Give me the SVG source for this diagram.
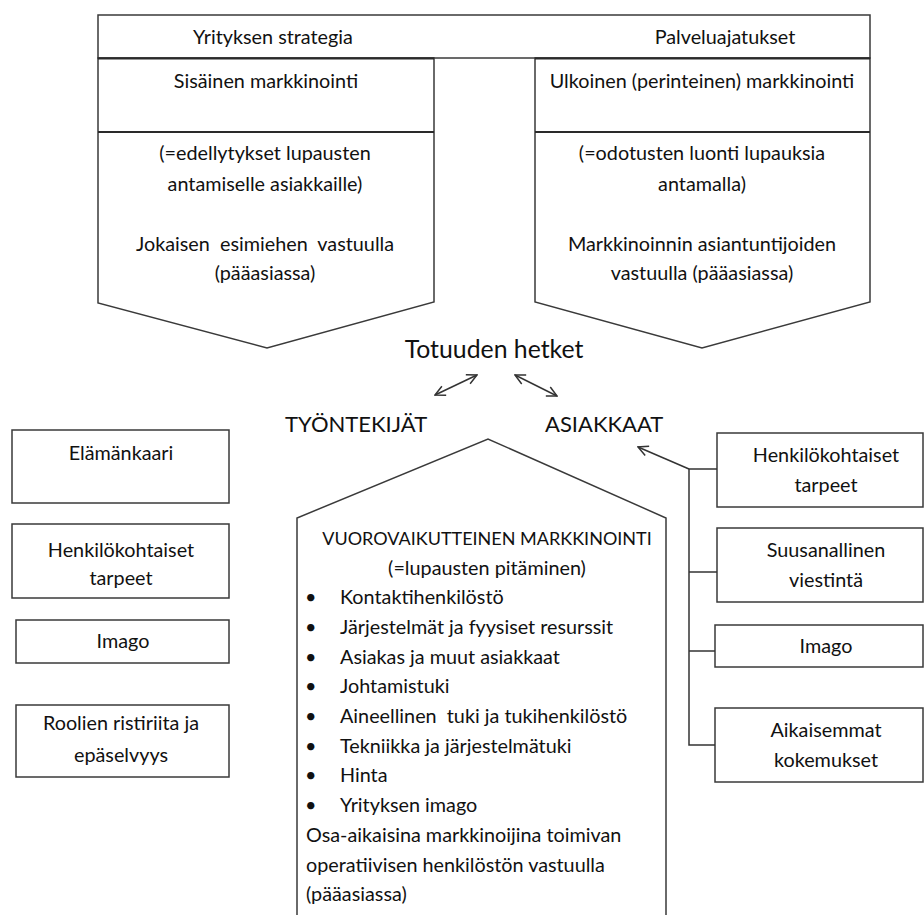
<svg xmlns="http://www.w3.org/2000/svg" width="924" height="915" viewBox="0 0 924 915">
  <style>
    .shape { fill: #ffffff; stroke: #3a3a3a; stroke-width: 1.5; }
    .rule { stroke: #2a2a2a; stroke-width: 2.2; }
    .link { fill: none; stroke: #333333; stroke-width: 1.5; }
    text { font-family: Lato, "Liberation Sans", sans-serif; fill: #111111; font-size: 19.8px; }
    .c { text-anchor: middle; }
    .title { font-size: 24.8px; }
    .big { font-size: 22px; }
    .caps { font-size: 18px; }
  </style>
  <defs>
    <marker id="open" viewBox="0 0 12 12" refX="11" refY="6" markerWidth="12" markerHeight="12" markerUnits="userSpaceOnUse" orient="auto-start-reverse">
      <path d="M1,1 L11,6 L1,11" fill="none" stroke="#333333" stroke-width="1.5"/>
    </marker>
  </defs>

  <rect width="924" height="915" fill="#ffffff"/>

  <!-- top strategy bar -->
  <g id="strategy-bar">
    <rect class="shape" x="98" y="15" width="772" height="43"/>
    <text class="c" x="273" y="44">Yrityksen strategia</text>
    <text class="c" x="725" y="44">Palveluajatukset</text>
  </g>

  <!-- internal marketing -->
  <g id="internal-marketing">
    <polygon class="shape" points="98,58 434,58 434,302 267,348 98,303"/>
    <line class="rule" x1="98" y1="58.5" x2="434" y2="58.5"/>
    <line class="rule" x1="98" y1="132" x2="434" y2="132"/>
    <text class="c" x="266" y="88">Sisäinen markkinointi</text>
    <text class="c" x="265" y="160">(=edellytykset lupausten</text>
    <text class="c" x="265" y="191">antamiselle asiakkaille)</text>
    <text class="c" x="265" y="251" xml:space="preserve">Jokaisen  esimiehen  vastuulla</text>
    <text class="c" x="265" y="280">(pääasiassa)</text>
  </g>

  <!-- external marketing -->
  <g id="external-marketing">
    <polygon class="shape" points="535,58 870,58 870,302 702,348 535,302"/>
    <line class="rule" x1="535" y1="58.5" x2="870" y2="58.5"/>
    <line class="rule" x1="535" y1="132" x2="870" y2="132"/>
    <text class="c" x="702" y="88">Ulkoinen (perinteinen) markkinointi</text>
    <text class="c" x="702" y="160">(=odotusten luonti lupauksia</text>
    <text class="c" x="702" y="191">antamalla)</text>
    <text class="c" x="702" y="251">Markkinoinnin asiantuntijoiden</text>
    <text class="c" x="702" y="280">vastuulla (pääasiassa)</text>
  </g>

  <!-- moments of truth -->
  <g id="moments-of-truth">
    <text class="c title" x="494" y="358">Totuuden hetket</text>
  </g>
  <g id="employees">
    <text class="big" x="285" y="432">TYÖNTEKIJÄT</text>
  </g>
  <g id="customers">
    <text class="big" x="545" y="432">ASIAKKAAT</text>
  </g>

  <!-- interactive marketing -->
  <g id="interactive-marketing">
    <polyline class="shape" points="297,917 297,518 488,439 666,518 666,917"/>
    <text class="c caps" x="487" y="545">VUOROVAIKUTTEINEN MARKKINOINTI</text>
    <text class="c" x="487" y="575">(=lupausten pitäminen)</text>
    <g>
      <text x="305" y="604">•</text><text x="340" y="604">Kontaktihenkilöstö</text>
      <text x="305" y="634">•</text><text x="340" y="634">Järjestelmät ja fyysiset resurssit</text>
      <text x="305" y="664">•</text><text x="340" y="664">Asiakas ja muut asiakkaat</text>
      <text x="305" y="693">•</text><text x="340" y="693">Johtamistuki</text>
      <text x="305" y="723">•</text><text x="340" y="723" xml:space="preserve">Aineellinen  tuki ja tukihenkilöstö</text>
      <text x="305" y="753">•</text><text x="340" y="753">Tekniikka ja järjestelmätuki</text>
      <text x="305" y="782">•</text><text x="340" y="782">Hinta</text>
      <text x="305" y="812">•</text><text x="340" y="812">Yrityksen imago</text>
    </g>
    <text x="306" y="842">Osa-aikaisina markkinoijina toimivan</text>
    <text x="306" y="872">operatiivisen henkilöstön vastuulla</text>
    <text x="306" y="901">(pääasiassa)</text>
  </g>

  <!-- employee factors -->
  <g id="emp-life-cycle">
    <rect class="shape" x="12" y="430" width="217" height="73"/>
    <text class="c" x="121" y="460">Elämänkaari</text>
  </g>
  <g id="emp-personal-needs">
    <rect class="shape" x="12" y="524" width="217" height="74"/>
    <text class="c" x="121" y="557">Henkilökohtaiset</text>
    <text class="c" x="121" y="585">tarpeet</text>
  </g>
  <g id="emp-image">
    <rect class="shape" x="16" y="620" width="213" height="43"/>
    <text class="c" x="123" y="648">Imago</text>
  </g>
  <g id="emp-role-conflict">
    <rect class="shape" x="16" y="705" width="213" height="72"/>
    <text class="c" x="121" y="730">Roolien ristiriita ja</text>
    <text class="c" x="121" y="762">epäselvyys</text>
  </g>

  <!-- customer factors -->
  <g id="cust-personal-needs">
    <rect class="shape" x="717" y="433" width="206" height="74"/>
    <text class="c" x="826" y="462">Henkilökohtaiset</text>
    <text class="c" x="826" y="492">tarpeet</text>
  </g>
  <g id="cust-word-of-mouth">
    <rect class="shape" x="717" y="528" width="206" height="74"/>
    <text class="c" x="826" y="557">Suusanallinen</text>
    <text class="c" x="826" y="587">viestintä</text>
  </g>
  <g id="cust-image">
    <rect class="shape" x="715" y="625" width="208" height="42"/>
    <text class="c" x="826" y="653">Imago</text>
  </g>
  <g id="cust-past-experience">
    <rect class="shape" x="715" y="708" width="208" height="74"/>
    <text class="c" x="826" y="737">Aikaisemmat</text>
    <text class="c" x="826" y="767">kokemukset</text>
  </g>

  <!-- connectors -->
  <g id="connectors">
    <line class="link" x1="435" y1="395" x2="477" y2="375" marker-start="url(#open)" marker-end="url(#open)"/>
    <line class="link" x1="515" y1="375" x2="557" y2="396" marker-start="url(#open)" marker-end="url(#open)"/>
    <polyline class="link" points="717,469 689,469 689,745 715,745"/>
    <line class="link" x1="689" y1="572" x2="717" y2="572"/>
    <line class="link" x1="689" y1="651" x2="715" y2="651"/>
    <line class="link" x1="689" y1="469" x2="638" y2="447" marker-end="url(#open)"/>
  </g>
</svg>
